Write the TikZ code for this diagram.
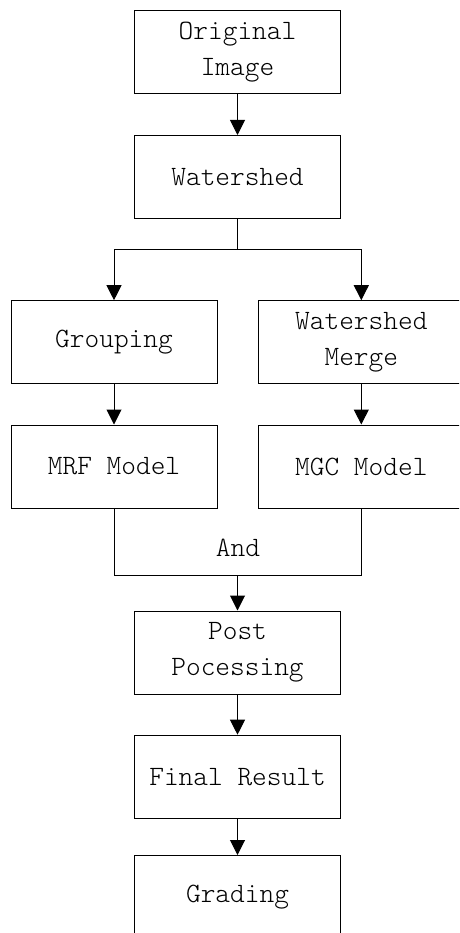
\documentclass[tikz,border=0pt]{standalone}
\usepackage{fontspec}
\setmonofont{Latin Modern Mono Light}
\usetikzlibrary{arrows.meta}
\tikzset{
  box/.style={draw=black, line width=1pt, minimum width=206pt, minimum height=83pt,
    inner sep=0pt, align=center, font=\ttfamily\fontsize{28}{36}\selectfont},
  flow/.style={draw=black, line width=1pt, -{Triangle[width=15pt,length=15pt]}},
  wire/.style={draw=black, line width=1pt}
}
\begin{document}
\begin{tikzpicture}[x=1pt,y=-1pt]
  \useasboundingbox (0,0) rectangle (459,933);
  \clip (0,0) rectangle (459,933);
  \fill[white] (0,0) rectangle (459,933);

  % main column
  \node[box] (orig)  at (237.5,52.5) {Original\\Image};
  \node[box] (water) at (237.5,177)  {Watershed};

  % two branches
  \node[box] (group) at (114,342.2)   {Grouping};
  \node[box] (merge) at (361.3,342.2) {Watershed\\Merge};
  \node[box] (mrf)   at (114,466.5)   {MRF Model};
  \node[box] (mgc)   at (361.3,466.5) {MGC Model};

  % lower column
  \node[box] (post)  at (237.5,652.5) {Post\\Pocessing};
  \node[box] (final) at (237.5,776.7) {Final Result};
  \node[box] (grade) at (237.5,897)   {Grading};

  % split and join points
  \coordinate (split) at (237.5,249.3);
  \coordinate (join)  at (237.5,575.7);

  \draw[flow] (orig) -- (water);
  \draw[wire] (water.south) -- (split);
  \draw[flow] (split) -| (group.north);
  \draw[flow] (split) -| (merge.north);
  \draw[flow] (group) -- (mrf);
  \draw[flow] (merge) -- (mgc);
  \draw[wire] (mrf.south) |- (join) -| (mgc.south);
  \node[font=\ttfamily\fontsize{28}{36}\selectfont] (andlbl) at (238,548) {And};
  \draw[flow] (join) -- (post.north);
  \draw[flow] (post) -- (final);
  \draw[flow] (final) -- (grade);
\end{tikzpicture}
\end{document}
